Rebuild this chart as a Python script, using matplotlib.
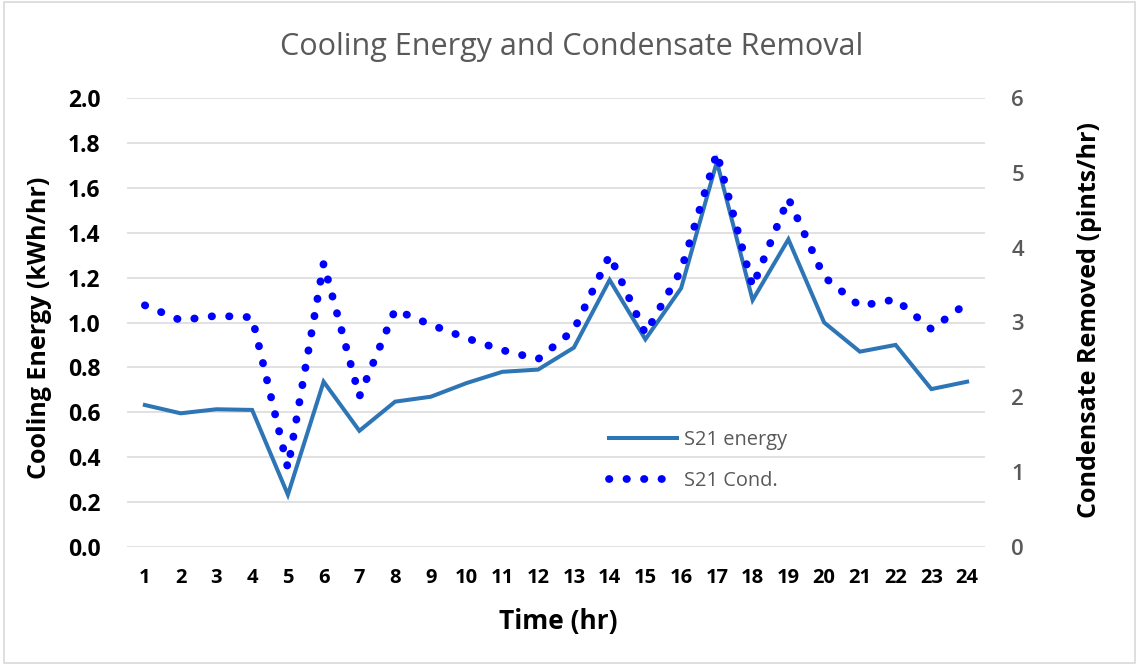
import matplotlib
matplotlib.use("Agg")
import matplotlib.pyplot as plt
from matplotlib.patches import Rectangle

hours = list(range(1, 25))
energy = [0.632, 0.595, 0.613, 0.610, 0.232, 0.736, 0.517, 0.647, 0.669, 0.730,
          0.780, 0.790, 0.888, 1.190, 0.925, 1.153, 1.717, 1.100, 1.371, 1.000,
          0.870, 0.900, 0.703, 0.736]
condensate = [3.23, 3.03, 3.09, 3.07, 1.05, 3.79, 2.01, 3.17, 2.97, 2.79,
              2.63, 2.51, 2.90, 3.90, 2.85, 3.70, 5.27, 3.48, 4.66, 3.61,
              3.22, 3.31, 2.91, 3.26]
left_ticks = [0.0, 0.2, 0.4, 0.6, 0.8, 1.0, 1.2, 1.4, 1.6, 1.8, 2.0]
right_ticks = [0, 1, 2, 3, 4, 5, 6]

plt.rcParams['font.family'] = ['Open Sans', 'DejaVu Sans']

W, H = 1139, 665
fig = plt.figure(figsize=(W / 100, H / 100), dpi=100)
fig.patches.append(Rectangle((4 / W, 2 / H), (1135 - 4) / W, (663 - 2) / H,
                             transform=fig.transFigure, fill=False,
                             edgecolor='#D9D9D9', linewidth=1.2))

L, R, T, B = 127, 985, 98.3, 546.7
ax = fig.add_axes([L / W, 1 - B / H, (R - L) / W, (B - T) / H])
ax2 = ax.twinx()

ax.set_xlim(0.5, 24.5)
ax.set_ylim(0, 2.0)
ax2.set_ylim(0, 6)

ax.set_yticks(left_ticks)
ax.set_yticklabels([f"{v:.1f}" for v in left_ticks])
ax2.set_yticks(right_ticks)
ax2.set_yticklabels([str(v) for v in right_ticks])
ax.set_xticks(hours)
ax.set_xticklabels([str(h) for h in hours])

ax.grid(axis='y', color='#D9D9D9', linewidth=1.1)
ax.set_axisbelow(True)
for a in (ax, ax2):
    for s in a.spines.values():
        s.set_visible(False)

ax.tick_params(axis='y', length=0, pad=19, labelsize=16.5, labelcolor='black')
ax.tick_params(axis='x', length=0, pad=15, labelsize=14.5, labelcolor='black')
for lab in ax.get_yticklabels() + ax.get_xticklabels():
    lab.set_fontweight('bold')
ax2.tick_params(axis='y', length=0, pad=19, labelsize=16, labelcolor='#595959')
for lab in ax2.get_yticklabels():
    lab.set_fontweight('semibold')

l1, = ax.plot(hours, energy, color='#2E75B6', linewidth=2.9, label='S21 energy',
              solid_joinstyle='miter', zorder=3)
l2, = ax2.plot(hours, condensate, color='#0000FF', linewidth=5.6,
               linestyle=(0, (0.05, 2.2)), dash_capstyle='round',
               label='S21 Cond.', zorder=4)

fig.text(558 / W, 1 - 622 / H, 'Time (hr)', ha='center', va='center',
         fontsize=19, fontweight='bold', color='black')
fig.text(40 / W, 1 - 328 / H, 'Cooling Energy (kWh/hr)', ha='center', va='center',
         rotation=90, fontsize=18, fontweight='bold', color='black')
fig.text(1090 / W, 1 - 320 / H, 'Condensate Removed (pints/hr)', ha='center',
         va='center', rotation=90, fontsize=18, fontweight='bold', color='black')

fig.text(572 / W, 1 - 47 / H, 'Cooling Energy and Condensate Removal',
         ha='center', va='center', fontsize=22, color='#595959')

leg = ax.legend(handles=[l1, l2], loc='upper left',
                bbox_to_anchor=((609 - L) / (R - L), (B - 430) / (B - T)),
                frameon=False, borderpad=0, borderaxespad=0,
                handlelength=3.4, handletextpad=0.35, labelspacing=1.05,
                fontsize=14.4)
for t in leg.get_texts():
    t.set_color('#595959')

fig.savefig('out.png', dpi=100)
